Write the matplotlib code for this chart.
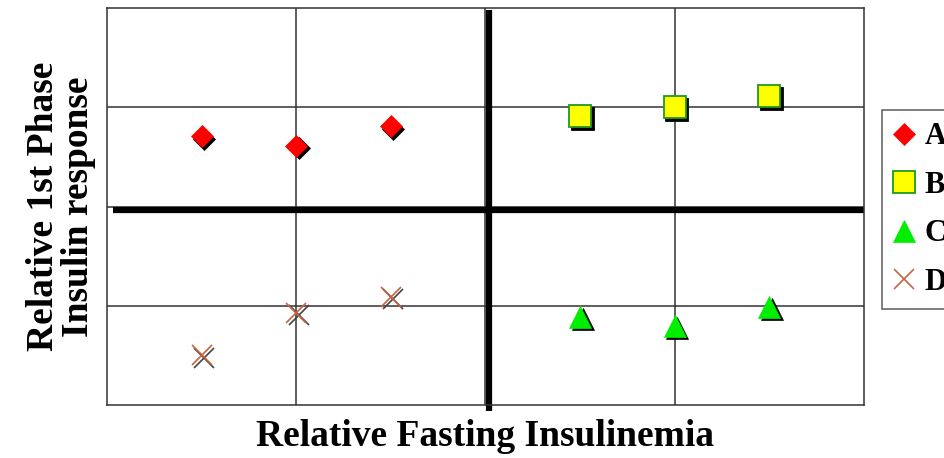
import matplotlib.pyplot as plt
import matplotlib.transforms as mtransforms
from matplotlib.lines import Line2D

plt.rcParams['font.family'] = ['Liberation Serif', 'DejaVu Serif']

# relative fasting insulinemia (x) vs relative 1st phase insulin response (y)
group_names = ['A', 'B', 'C', 'D']
x_a = [0.5, 1.0, 1.5]
y_a = [2.71, 2.61, 2.81]
x_b = [2.5, 3.0, 3.5]
y_b = [2.91, 3.00, 3.11]
x_c = [2.5, 3.0, 3.5]
y_c = [0.89, 0.80, 0.99]
x_d = [0.5, 1.0, 1.5]
y_d = [0.50, 0.93, 1.09]

# marker styles: (marker, size, face, edge, edge width)
styles = {
    'A': ('D', 11, '#ff0000', '#ff0000', 0.5),
    'B': ('s', 16, '#ffff00', '#1f9a1f', 1.3),
    'C': ('^', 16, '#00ee00', '#00ee00', 0.5),
    'D': ('x', 15, '#c8643c', '#c8643c', 1.2),
}

fig = plt.figure(figsize=(9.45, 4.58), dpi=100)
ax = fig.add_axes([0.1132, 0.1157, 0.8011, 0.8668])
ax.set_xlim(0, 4)
ax.set_ylim(0, 4)

# light grid
for g in [1, 2, 3]:
    ax.axvline(g, color='#333333', linewidth=1.1, zorder=1)
    ax.axhline(g, color='#333333', linewidth=1.1, zorder=1)

# quadrant dividers
ax.plot([0.03, 4.0], [1.96, 1.96], color='black', linewidth=4.5,
        solid_capstyle='butt', zorder=2, clip_on=False)
ax.plot([2.016, 2.016], [-0.06, 3.98], color='black', linewidth=4.5,
        solid_capstyle='butt', zorder=2, clip_on=False)

for s in ax.spines.values():
    s.set_color('#333333')
    s.set_linewidth(1.1)
ax.set_xticks([])
ax.set_yticks([])

shadow = mtransforms.offset_copy(ax.transData, fig=fig, x=2.5, y=-2.5, units='dots')
series = {'A': (x_a, y_a), 'B': (x_b, y_b), 'C': (x_c, y_c), 'D': (x_d, y_d)}
for name in group_names:
    xs, ys = series[name]
    m, ms, fc, ec, ew = styles[name]
    if m == 'x':
        ax.plot(xs, ys, linestyle='none', marker=m, markersize=ms,
                markeredgecolor='#444444', markeredgewidth=ew,
                transform=shadow, zorder=3)
    else:
        ax.plot(xs, ys, linestyle='none', marker=m, markersize=ms,
                markerfacecolor='black', markeredgecolor='black',
                markeredgewidth=ew, transform=shadow, zorder=3)
    ax.plot(xs, ys, linestyle='none', marker=m, markersize=ms,
            markerfacecolor=fc, markeredgecolor=ec, markeredgewidth=ew,
            zorder=4)

handles = []
for name in group_names:
    m, ms, fc, ec, ew = styles[name]
    handles.append(Line2D([], [], linestyle='none', marker=m, markersize=ms,
                          markerfacecolor=fc, markeredgecolor=ec,
                          markeredgewidth=ew))
leg = fig.legend(handles, group_names, loc='upper left',
                 bbox_to_anchor=(882 / 945, 1 - 110 / 458),
                 borderaxespad=0, frameon=True, fancybox=False,
                 borderpad=0.4, handletextpad=0.32, handlelength=0.67,
                 labelspacing=0.64, prop={'weight': 'bold', 'size': 22})
leg.get_frame().set_edgecolor('#333333')
leg.get_frame().set_linewidth(1.1)

ax.set_xlabel('Relative Fasting Insulinemia', fontsize=27, fontweight='bold',
              labelpad=10)
ax.set_ylabel('Relative 1st Phase\nInsulin response', fontsize=27,
              fontweight='bold', labelpad=8, linespacing=1.0)

fig.savefig('out.png', dpi=100, facecolor='white')
